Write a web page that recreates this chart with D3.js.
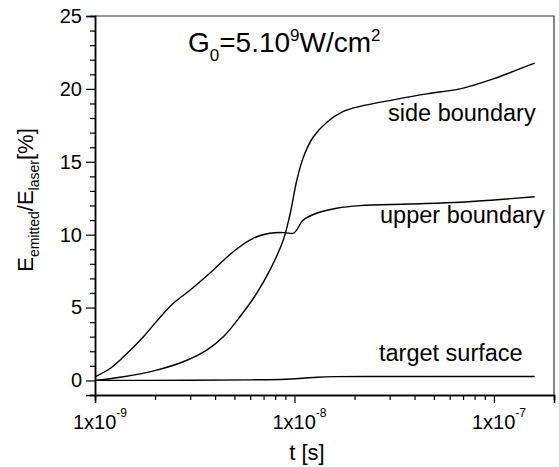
<!DOCTYPE html>
<html>
<head>
<meta charset="utf-8">
<script src="https://cdn.jsdelivr.net/npm/d3@7"></script>
<style>
body{margin:0;background:#fff;}
text{font-family:"Liberation Sans",Arial,sans-serif;fill:#000;}
</style>
</head>
<body>
<svg id="chart" width="559" height="467"></svg>
<script>
// data (t in seconds, value in %)
var sideT   = [1e-9, 1.39e-9, 2.04e-9, 2.77e-9, 3.63e-9, 4.4e-9, 5.33e-9, 6.46e-9, 7.54e-9, 8.79e-9, 9.5e-9, 1.026e-8, 1.107e-8, 1.242e-8, 1.449e-8, 1.757e-8, 2.13e-8, 3.13e-8, 4.6e-8, 6.76e-8, 1.0e-7, 1.25e-7, 1.6e-7];
var sideV   = [0, 0.25, 0.71, 1.28, 2.08, 3.0, 4.37, 5.97, 7.58, 9.64, 11.4, 13.7, 15.3, 16.7, 17.7, 18.45, 18.8, 19.25, 19.66, 20.0, 20.7, 21.2, 21.77];
var upperT  = [1e-9, 1.19e-9, 1.39e-9, 1.75e-9, 2.04e-9, 2.47e-9, 3.0e-9, 3.92e-9, 4.93e-9, 6.2e-9, 7.5e-9, 8.96e-9, 9.9e-9, 1.107e-8, 1.29e-8, 1.63e-8, 2.13e-8, 3.79e-8, 6.76e-8, 1.0e-7, 1.6e-7];
var upperV  = [0.25, 0.82, 1.62, 3.0, 4.07, 5.29, 6.2, 7.58, 8.83, 9.75, 10.1, 10.14, 10.1, 11.0, 11.47, 11.81, 11.99, 12.1, 12.22, 12.38, 12.6];
var targetT = [1e-9, 3e-9, 6e-9, 9e-9, 1.1e-8, 1.3e-8, 1.6e-8, 3e-8, 1.6e-7];
var targetV = [0, 0.01, 0.04, 0.08, 0.15, 0.22, 0.26, 0.27, 0.27];
var seriesNames = ['side boundary', 'upper boundary', 'target surface'];
var xMajor = [1e-9, 1e-8, 1e-7];
var xMajorExp = ['-9', '-8', '-7'];
var yMajor = [0, 5, 10, 15, 20, 25];

var W = 559, H = 467;
var m = {left:95, top:16, right:5, bottom:72};
var svg = d3.select('#chart');

var x = d3.scaleLog().domain([1e-9, 2e-7]).range([m.left, W - m.right]);
var y = d3.scaleLinear().domain([-1, 25]).range([H - m.bottom, m.top]);

//minor ticks
var xMinor = [];
[1e-9, 1e-8, 1e-7].forEach(function(dec){
	for (var k=2; k<=9; k++){ if (dec*k <= 2e-7) xMinor.push(dec*k); }
});
var yMinor = d3.range(-1, 26, 1).filter(function(v){ return yMajor.indexOf(v) < 0; });

//frame: top and right lines
svg.append('path')
	.attr('d', 'M' + m.left + ',' + m.top + 'H' + (W - m.right) + 'V' + (H - m.bottom))
	.attr('fill', 'none').attr('stroke', '#333').attr('stroke-width', 1.2);

//x axis
var gx = svg.append('g').attr('transform', 'translate(0,' + (H - m.bottom) + ')');
gx.call(d3.axisBottom(x).tickValues(xMinor).tickSize(5).tickFormat(''))
gx.append('g').call(d3.axisBottom(x).tickValues(xMajor).tickSize(8).tickFormat(''))
gx.selectAll('.domain').attr('stroke-width', 1.5);
gx.selectAll('line').attr('stroke-width', 1.2);
var xl = gx.selectAll('.xlab').data(xMajor).enter().append('text')
	.attr('class', 'xlab')
	.attr('x', function(d){ return x(d) + 5; })
	.attr('y', 34)
	.attr('text-anchor', 'middle')
	.style('font-size', '20px');
xl.append('tspan').text('1x10');
xl.append('tspan').attr('dy', -12).style('font-size', '12px').text(function(d, i){ return xMajorExp[i]; });

//y axis
var gy = svg.append('g').attr('transform', 'translate(' + m.left + ',0)');
gy.call(d3.axisLeft(y).tickValues(yMinor).tickSize(5).tickFormat(''))
gy.append('g').call(d3.axisLeft(y).tickValues(yMajor).tickSize(9).tickPadding(4).tickFormat(d3.format('d')))
gy.selectAll('.domain').attr('stroke-width', 1.5);
gy.selectAll('line').attr('stroke-width', 1.2);
gy.selectAll('text').style('font-size', '20px').attr('font-family', null).attr('fill', '#000');

//axis titles
svg.append('text')
	.attr('x', 307).attr('y', 460)
	.attr('text-anchor', 'middle')
	.style('font-size', '22px')
	.text('t [s]');

var yt = svg.append('text')
	.attr('transform', 'translate(33,200) rotate(-90)')
	.attr('text-anchor', 'middle')
	.style('font-size', '22px');
yt.append('tspan').text('E');
yt.append('tspan').attr('dy', 6).style('font-size', '14px').text('emitted');
yt.append('tspan').attr('dy', -6).text('/E');
yt.append('tspan').attr('dy', 6).style('font-size', '14px').text('laser');
yt.append('tspan').attr('dy', -6).text('[%]');

//curves
var line = d3.line()
	.x(function(d){ return x(d[0]); })
	.y(function(d){ return y(d[1]); })
	.curve(d3.curveCatmullRom.alpha(0.5));
var series = [d3.zip(sideT, sideV), d3.zip(upperT, upperV), d3.zip(targetT, targetV)];
svg.append('g').selectAll('path').data(series).enter()
	.append('path')
	.attr('d', line)
	.attr('fill', 'none')
	.attr('stroke', '#000')
	.attr('stroke-width', 1.4);

//curve labels
var labelPos = [[388, 121], [380, 223], [379, 361]];
svg.append('g').selectAll('text').data(seriesNames).enter()
	.append('text')
	.attr('x', function(d, i){ return labelPos[i][0]; })
	.attr('y', function(d, i){ return labelPos[i][1]; })
	.style('font-size', '23.5px')
	.text(function(d){ return d; });

//G0 annotation
var g0 = svg.append('text').attr('x', 188).attr('y', 52).style('font-size', '28px');
g0.append('tspan').text('G');
g0.append('tspan').attr('dy', 9).style('font-size', '17px').text('0');
g0.append('tspan').attr('dy', -9).text('=5.10');
g0.append('tspan').attr('dy', -11).style('font-size', '17px').text('9');
g0.append('tspan').attr('dy', 11).text('W/cm');
g0.append('tspan').attr('dy', -11).style('font-size', '17px').text('2');
</script>
</body>
</html>
